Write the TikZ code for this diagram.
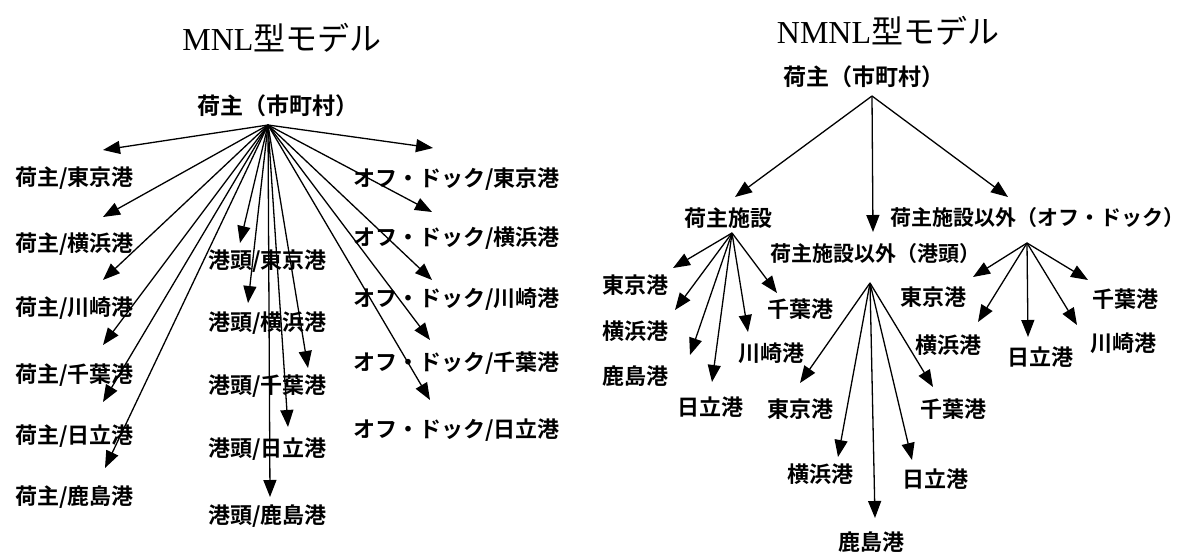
\documentclass[tikz,border=0pt]{standalone}
\usepackage{fontspec}
\usetikzlibrary{arrows.meta}
\newfontfamily\jp{Noto Sans CJK JP}[BoldFont={Noto Sans CJK JP Bold}]
\newfontfamily\ttlfont{Liberation Serif}
\begin{document}
\begin{tikzpicture}[x=1pt,y=-1pt,
  lbl/.style={font=\jp\bfseries\fontsize{22}{22}\selectfont, inner sep=0pt, anchor=west},
  lbls/.style={font=\jp\bfseries\fontsize{21}{21}\selectfont, inner sep=0pt, anchor=west},
  rootlbl/.style={font=\jp\bfseries\fontsize{23}{23}\selectfont, inner sep=0pt},
  ttl/.style={font=\ttlfont\fontsize{32}{32}\selectfont, inner sep=0pt, anchor=base},
  arr/.style={line width=1.3pt, -{Triangle[length=17pt,width=13pt]}},
]
\useasboundingbox (0,0) rectangle (1188,554);

% ---------- titles
\node[ttl] (titleL) at (282,50) {MNL{\jp 型モデル}};
\node[ttl] (titleR) at (888,43) {NMNL{\jp 型モデル}};

% ---------- MNL model
\node[rootlbl] (rootL) at (278,106) {荷主（市町村）};
\coordinate (apexL) at (268,125);

\node[lbl] (h1) at (15,178) {荷主/東京港};
\node[lbl] (h2) at (15,244) {荷主/横浜港};
\node[lbl] (h3) at (15,308) {荷主/川崎港};
\node[lbl] (h4) at (15,375) {荷主/千葉港};
\node[lbl] (h5) at (15,436) {荷主/日立港};
\node[lbl] (h6) at (15,497) {荷主/鹿島港};

\node[lbl] (k1) at (208,261) {港頭/東京港};
\node[lbl] (k2) at (208,323) {港頭/横浜港};
\node[lbl] (k3) at (208,386) {港頭/千葉港};
\node[lbl] (k4) at (208,449) {港頭/日立港};
\node[lbl] (k5) at (208,516) {港頭/鹿島港};

\node[lbl] (o1) at (353,179) {オフ・ドック/東京港};
\node[lbl] (o2) at (353,238) {オフ・ドック/横浜港};
\node[lbl] (o3) at (353,299) {オフ・ドック/川崎港};
\node[lbl] (o4) at (353,363) {オフ・ドック/千葉港};
\node[lbl] (o5) at (353,430) {オフ・ドック/日立港};

\coordinate (th1) at (103,150);
\coordinate (th2) at (103,217);
\coordinate (th3) at (103,280);
\coordinate (th4) at (103,345);
\coordinate (th5) at (103,402);
\coordinate (th6) at (105,468);
\coordinate (tk1) at (240,243);
\coordinate (tk2) at (248,303);
\coordinate (tk3) at (308,368);
\coordinate (tk4) at (288,427);
\coordinate (tk5) at (270,497);
\coordinate (to1) at (433,148);
\coordinate (to2) at (432,212);
\coordinate (to3) at (432,280);
\coordinate (to4) at (430,340);
\coordinate (to5) at (430,400);

\foreach \t in {th1,th2,th3,th4,th5,th6,tk1,tk2,tk3,tk4,tk5,to1,to2,to3,to4,to5}
  \draw[arr] (apexL) -- (\t);

% ---------- NMNL model
\node[rootlbl] (rootR) at (864,77) {荷主（市町村）};
\coordinate (apexR) at (872,96);

\node[lbl, anchor=center] (sh) at (728,218) {荷主施設};
\node[lbls] (kt) at (770,254) {荷主施設以外（港頭）};
\node[lbls] (od) at (890,218) {荷主施設以外（オフ・ドック）};

\coordinate (tsh) at (735,197);
\coordinate (tkt) at (873,232);
\coordinate (tod) at (1008,197);
\draw[arr] (apexR) -- (tsh);
\draw[arr] (apexR) -- (tkt);
\draw[arr] (apexR) -- (tod);

\coordinate (apexS) at (732,233);
\coordinate (apexK) at (870,283);
\coordinate (apexO) at (1027,243);

% children of 荷主施設
\node[lbl] (s1) at (602,285) {東京港};
\node[lbl] (s2) at (602,331) {横浜港};
\node[lbl] (s3) at (602,376) {鹿島港};
\node[lbl] (s4) at (677,407) {日立港};
\node[lbl] (s5) at (738,353) {川崎港};
\node[lbl] (s6) at (767,309) {千葉港};
\coordinate (ts1) at (673,268);
\coordinate (ts2) at (675,310);
\coordinate (ts3) at (690,355);
\coordinate (ts4) at (712,382);
\coordinate (ts5) at (748,332);
\coordinate (ts6) at (777,293);
\foreach \t in {ts1,ts2,ts3,ts4,ts5,ts6}
  \draw[arr] (apexS) -- (\t);

% children of 港頭
\node[lbl] (p1) at (767,409) {東京港};
\node[lbl] (p2) at (787,474) {横浜港};
\node[lbl] (p3) at (838,542) {鹿島港};
\node[lbl] (p4) at (902,479) {日立港};
\node[lbl] (p5) at (920,409) {千葉港};
\coordinate (tp1) at (800,383);
\coordinate (tp2) at (838,457);
\coordinate (tp3) at (875,518);
\coordinate (tp4) at (912,460);
\coordinate (tp5) at (933,387);
\foreach \t in {tp1,tp2,tp3,tp4,tp5}
  \draw[arr] (apexK) -- (\t);

% children of オフ・ドック
\node[lbl] (q1) at (900,297) {東京港};
\node[lbl] (q2) at (915,345) {横浜港};
\node[lbl] (q3) at (1007,357) {日立港};
\node[lbl] (q4) at (1090,343) {川崎港};
\node[lbl] (q5) at (1092,299) {千葉港};
\coordinate (tq1) at (973,277);
\coordinate (tq2) at (978,322);
\coordinate (tq3) at (1028,337);
\coordinate (tq4) at (1077,325);
\coordinate (tq5) at (1088,280);
\foreach \t in {tq1,tq2,tq3,tq4,tq5}
  \draw[arr] (apexO) -- (\t);
\end{tikzpicture}
\end{document}
